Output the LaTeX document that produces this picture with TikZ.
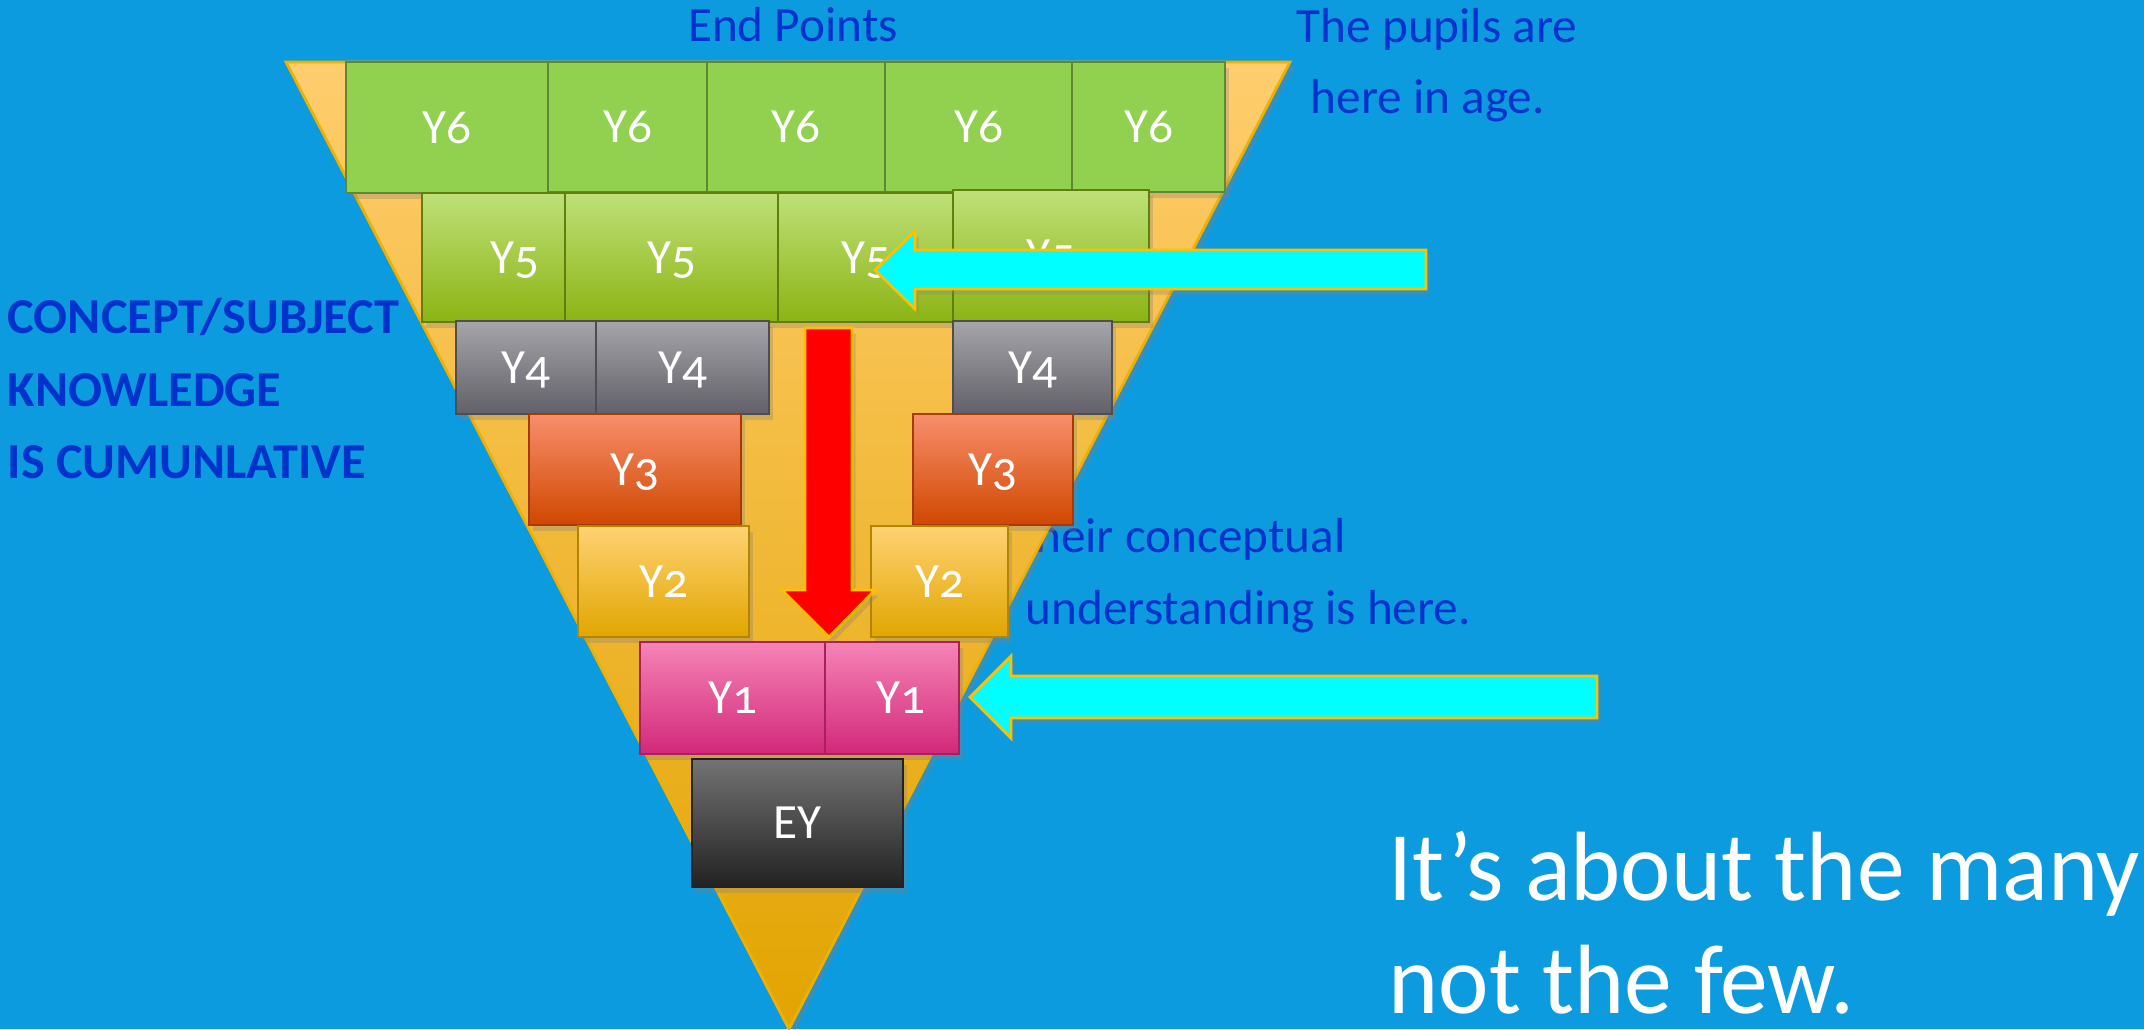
\documentclass[tikz,border=0pt]{standalone}
\usepackage{fontspec}
\setmainfont{Carlito}
\newfontfamily\boxfontfam[Numbers=OldStyle]{Carlito}
\usetikzlibrary{shadows}
\definecolor{bg}{RGB}{12,155,222}
\definecolor{txtblue}{RGB}{0,51,204}
\definecolor{triTop}{RGB}{255,205,110}
\definecolor{triMid}{RGB}{247,188,40}
\definecolor{triBot}{RGB}{226,164,0}
\definecolor{triEdge}{RGB}{240,176,0}
\definecolor{gsix}{RGB}{146,208,80}
\definecolor{gfivet}{RGB}{190,224,120}
\definecolor{gfiveb}{RGB}{140,180,20}
\definecolor{grt}{RGB}{165,165,170}
\definecolor{grb}{RGB}{98,96,104}
\definecolor{ort}{RGB}{248,142,108}
\definecolor{orb}{RGB}{208,72,0}
\definecolor{ywt}{RGB}{255,210,115}
\definecolor{ywb}{RGB}{224,166,0}
\definecolor{pkt}{RGB}{246,132,182}
\definecolor{pkb}{RGB}{210,40,122}
\definecolor{eyt}{RGB}{115,115,115}
\definecolor{eym}{RGB}{42,42,42}
\definecolor{eyb}{RGB}{34,34,34}
\definecolor{arrowEdge}{RGB}{255,192,0}
\definecolor{cyanfill}{RGB}{0,255,255}
\definecolor{redfill}{RGB}{255,0,0}
\newcommand{\ybox}[7]{\node[#2, minimum width={(#5-#3)*0.01cm}, minimum height={(#6-#4)*0.01cm}] (#1) at ({(#3+#5)/2},{(#4+#6)/2}) {#7};}
\tikzset{
  shad/.style={drop shadow={opacity=0.3, shadow xshift=1pt, shadow yshift=-1.6pt}},
  boxbase/.style={rectangle, inner sep=0pt, text=white, font=\boxfontfam\fontsize{14pt}{16pt}\selectfont, text height=9pt, text depth=0pt, line width=0.4pt, shad},
  ysix/.style={boxbase, fill=gsix, draw=gsix!65!black},
  yfive/.style={boxbase, top color=gfivet, bottom color=gfiveb, draw=gfiveb!70!black},
  yfour/.style={boxbase, top color=grt, bottom color=grb, draw=grb!80!black},
  ythree/.style={boxbase, top color=ort, bottom color=orb, draw=orb!80!black},
  ytwo/.style={boxbase, top color=ywt, bottom color=ywb, draw=ywb!80!black},
  yone/.style={boxbase, top color=pkt, bottom color=pkb, draw=pkb!80!black},
  eybox/.style={boxbase, top color=eyt, middle color=eym, bottom color=eyb, draw=eyb},
  note/.style={inner sep=0pt, text=txtblue, font=\fontsize{14pt}{16pt}\selectfont},
  lefttxt/.style={inner sep=0pt, text=txtblue, font=\bfseries\fontsize{14.3pt}{16pt}\selectfont},
  bigtxt/.style={inner sep=0pt, text=white, font=\fontsize{28pt}{32pt}\selectfont},
  tri/.style={top color=triTop, middle color=triMid, bottom color=triBot, draw=triEdge, line width=0.8pt, drop shadow={opacity=0.35, shadow xshift=1.5pt, shadow yshift=-1pt}},
  cyanarrow/.style={fill=cyanfill, draw=arrowEdge, line width=0.8pt, line join=miter, shad},
  redarrow/.style={fill=redfill, draw=arrowEdge, line width=0.8pt, line join=miter, shad}
}
\begin{document}
\begin{tikzpicture}[x=0.01cm,y=-0.01cm]
\useasboundingbox (0,0) rectangle (2144,1029);
\fill[bg] (0,0) rectangle (2144,1029);

% text partly hidden by the triangle
\node[note, anchor=base west] (their) at (1018,552) {their conceptual};
\node[note, anchor=base west] (underst) at (1025,624) {understanding is here.};

% triangle
\path[tri] (286,62) -- (1290,62) -- (789,1029) -- cycle;

% Y6 row
\ybox{ysixa}{ysix}{346}{62}{548}{193}{Y6}
\ybox{ysixb}{ysix}{548}{62}{707}{192}{Y6}
\ybox{ysixc}{ysix}{707}{62}{885}{192}{Y6}
\ybox{ysixd}{ysix}{885}{62}{1072}{192}{Y6}
\ybox{ysixe}{ysix}{1072}{62}{1225}{192}{Y6}
% Y5 row
\ybox{yfivea}{yfive}{422}{193}{565}{322}{\hspace*{12pt}Y5}
\ybox{yfiveb}{yfive}{565}{193}{778}{322}{Y5}
\ybox{yfivec}{yfive}{778}{193}{953}{322}{Y5}
\ybox{yfived}{yfive}{953}{190}{1149}{322}{Y5}
% Y4 row
\ybox{yfoura}{yfour}{456}{321}{596}{414}{Y4}
\ybox{yfourb}{yfour}{596}{321}{769}{414}{Y4}
\ybox{yfourc}{yfour}{953}{321}{1112}{414}{Y4}
% Y3 row
\ybox{ythreea}{ythree}{529}{414}{741}{525}{Y3}
\ybox{ythreeb}{ythree}{913}{414}{1073}{525}{Y3}
% Y2 row
\ybox{ytwoa}{ytwo}{578}{526}{749}{637}{Y2}
\ybox{ytwob}{ytwo}{871}{526}{1008}{637}{Y2}
% Y1 row
\ybox{yonea}{yone}{640}{642}{825}{754}{Y1}
\ybox{yoneb}{yone}{825}{642}{959}{754}{\hspace*{5pt}Y1}
% EY
\ybox{ey}{eybox}{692}{759}{903}{887}{EY}

% block arrows
\path[redarrow] (805,328) -- (852,328) -- (852,590) -- (875,590) -- (829,637) -- (782,590) -- (805,590) -- cycle;
\path[cyanarrow] (875,270) -- (915,231) -- (915,250) -- (1426,250) -- (1426,289) -- (915,289) -- (915,309) -- cycle;
\path[cyanarrow] (970,697) -- (1011,656) -- (1011,676) -- (1597,676) -- (1597,718) -- (1011,718) -- (1011,738) -- cycle;

% texts
\node[note, anchor=base] (endpts) at (793,41) {End Points};
\node[note, anchor=base west] (pupa) at (1296,42) {The pupils are};
\node[note, anchor=base west] (pupb) at (1310,113) {here in age.};
\node[lefttxt, anchor=base west] (conca) at (7,333) {CONCEPT/SUBJECT};
\node[lefttxt, anchor=base west] (concb) at (7,406) {KNOWLEDGE};
\node[lefttxt, anchor=base west] (concc) at (7,478) {IS CUMUNLATIVE};
\node[bigtxt, anchor=base west] (manya) at (1388,900) {\scalebox{0.97}[1]{It’s about the many}};
\node[bigtxt, anchor=base west, text depth=0pt] (manyb) at (1388,1013) {\scalebox{0.97}[1]{not the few.}};
\end{tikzpicture}
\end{document}
